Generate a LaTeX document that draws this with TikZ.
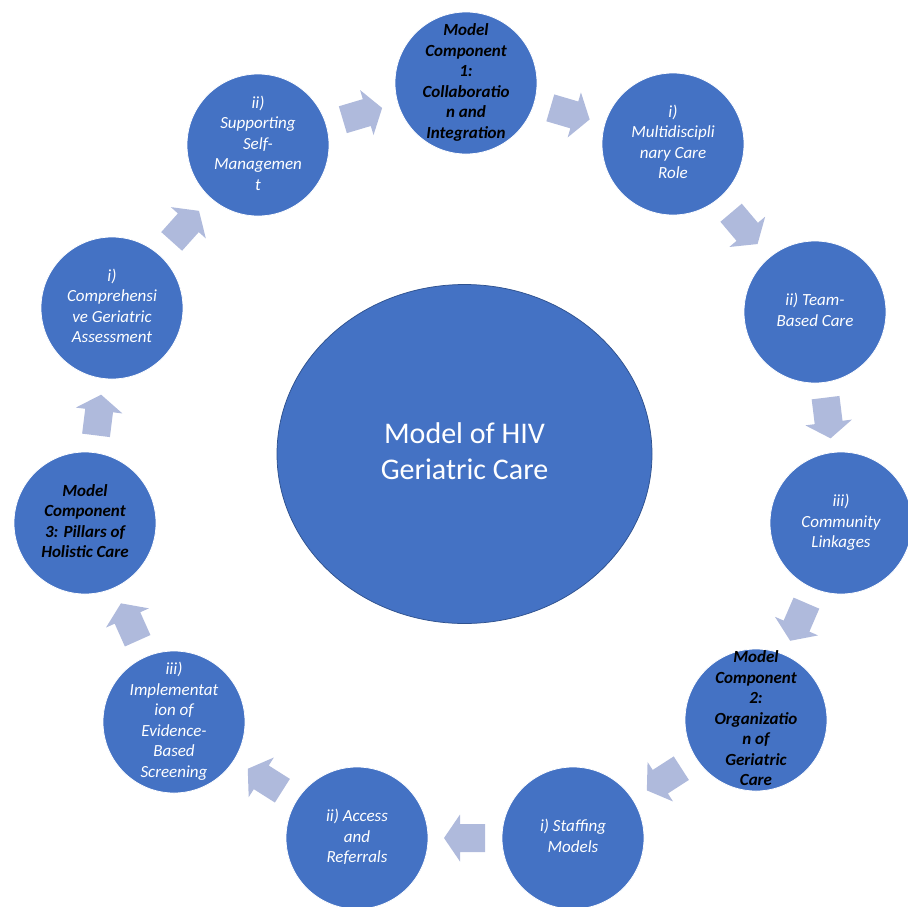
\documentclass[tikz,border=0pt]{standalone}
\usepackage{fontspec}
\setmainfont{Carlito}
\usetikzlibrary{calc,shapes.geometric}
\definecolor{nodeblue}{HTML}{4472C4}
\definecolor{edgeblue}{HTML}{2F528F}
\definecolor{arrowcol}{RGB}{175,186,220}
\newcommand\cyclearrow[2]{%
  \path let \p1=($(#2)-(#1)$) in \pgfextra{\pgfmathsetmacro\tmpang{atan2(\y1,\x1)}\xdef\cyang{\tmpang}};
  \coordinate (m-#1-#2) at ($(#1)!0.5!(#2)$);
  \begin{scope}[shift={(m-#1-#2)}, rotate=\cyang]
    \fill[arrowcol] (-20,-14) -- (5,-14) -- (5,-23.5) -- (21,0) -- (5,23.5) -- (5,14) -- (-20,14) -- cycle;
  \end{scope}}
\newcommand\cyclines[1]{\begin{tabular}{@{}c@{}}#1\end{tabular}}
\tikzset{
  cyc/.style={circle, fill=nodeblue, draw=white, line width=0.75pt, minimum size=142pt, inner sep=0pt},
  cyctext/.style={inner sep=0pt, text=white, font=\fontsize{17}{20.5}\selectfont\itshape},
  comptext/.style={cyctext, text=black, font=\fontsize{17}{20.5}\selectfont\bfseries\itshape},
  hub/.style={ellipse, fill=nodeblue, draw=edgeblue, line width=0.75pt, minimum width=375pt,
    minimum height=339pt, inner sep=0pt, text=white,
    font=\fontsize{30}{36}\selectfont}
}
\begin{document}
\begin{tikzpicture}[x=1pt,y=-1pt]
\useasboundingbox (0,0) rectangle (908,906);
\node[hub] (hub) at (464.5,454) {\cyclines{Model of HIV\\Geriatric Care}};
\node[cyc] (c1) at (466,83) {};
\node[cyc] (c2) at (673,144) {};
\node[cyc] (c3) at (815,312) {};
\node[cyc] (c4) at (841,523) {};
\node[cyc] (c5) at (756,720) {};
\node[cyc] (c6) at (573,838) {};
\node[cyc] (c7) at (357,838) {};
\node[cyc] (c8) at (174,722) {};
\node[cyc] (c9) at (85,523) {};
\node[cyc] (c10) at (112,308) {};
\node[cyc] (c11) at (258,145) {};
\node[comptext] (t1) at (c1) {\cyclines{Model\\Component\\1:\\Collaboratio\\n and\\Integration}};
\node[cyctext] (t2) at (c2) {\cyclines{i)\\Multidiscipli\\nary Care\\Role}};
\node[cyctext] (t3) at (c3) {\cyclines{ii) Team-\\Based Care}};
\node[cyctext] (t4) at (c4) {\cyclines{iii)\\Community\\Linkages}};
\node[comptext] (t5) at (c5) {\cyclines{Model\\Component\\2:\\Organizatio\\n of\\Geriatric\\Care}};
\node[cyctext] (t6) at (c6) {\cyclines{i) Staffing\\Models}};
\node[cyctext] (t7) at (c7) {\cyclines{ii) Access\\and\\Referrals}};
\node[cyctext] (t8) at (c8) {\cyclines{iii)\\Implementat\\ion of\\Evidence-\\Based\\Screening}};
\node[comptext] (t9) at (c9) {\cyclines{Model\\Component\\3: Pillars of\\Holistic Care}};
\node[cyctext] (t10) at (c10) {\cyclines{i)\\Comprehensi\\ve Geriatric\\Assessment}};
\node[cyctext] (t11) at (c11) {\cyclines{ii)\\Supporting\\Self-\\Managemen\\t}};
\cyclearrow{c11}{c1}
\cyclearrow{c1}{c2}
\cyclearrow{c2}{c3}
\cyclearrow{c3}{c4}
\cyclearrow{c4}{c5}
\cyclearrow{c5}{c6}
\cyclearrow{c6}{c7}
\cyclearrow{c7}{c8}
\cyclearrow{c8}{c9}
\cyclearrow{c9}{c10}
\cyclearrow{c10}{c11}
\end{tikzpicture}
\end{document}
